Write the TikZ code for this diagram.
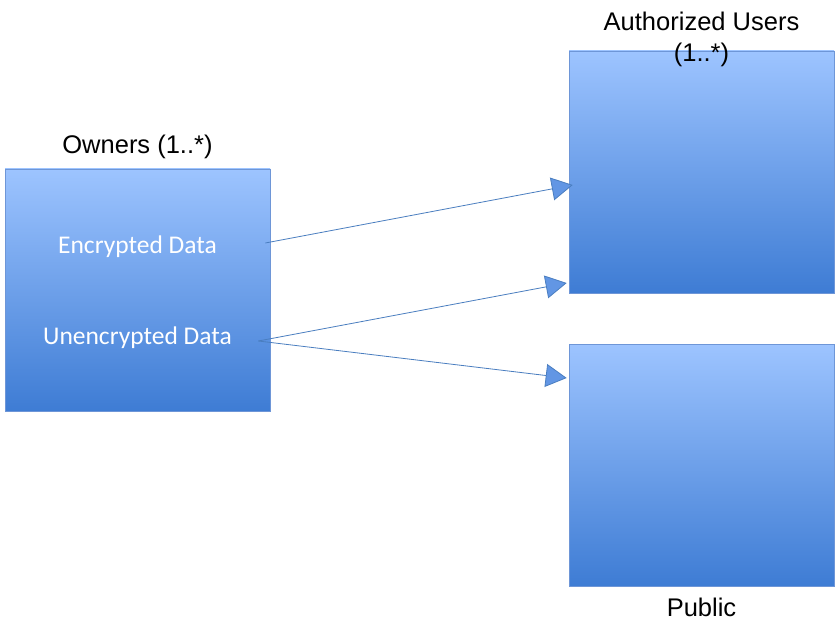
\documentclass[tikz,border=0pt]{standalone}
\usepackage{fontspec}
\setmainfont{Liberation Sans}
\newfontfamily\calibrifont{Carlito}
\usetikzlibrary{arrows.meta, positioning, calc}

\definecolor{boxtop}{RGB}{157,196,255}
\definecolor{boxbot}{RGB}{62,124,212}
\definecolor{boxedge}{RGB}{110,150,215}
\definecolor{linkblue}{RGB}{74,126,192}
\definecolor{headfill}{RGB}{98,150,228}

\begin{document}
\begin{tikzpicture}[
    x=1pt, y=-1pt,
    party/.style={
        rectangle, draw=boxedge, line width=0.6pt,
        top color=boxtop, bottom color=boxbot,
        minimum width=265pt, minimum height=242pt,
        inner sep=0pt
    },
    title/.style={font=\fontsize{25.5}{31}\selectfont, align=center},
    datalbl/.style={font=\calibrifont\fontsize{25.5}{28}\selectfont, text=white},
    flow/.style={-{Triangle[length=21pt, width=23pt, fill=headfill]},
        draw=linkblue, line width=0.8pt},
]

\useasboundingbox[fill=white] (0,0) rectangle (840,628);

% --- Owners (left) ---
\node[party] (OW) at (137.5, 290) {};
\node[title, above=6pt of OW.north] (OWt) {Owners (1..*)};
\node[datalbl] (ENC) at (137.5, 247) {Encrypted Data};
\node[datalbl] (UNE) at (137.5, 338) {Unencrypted Data};

% --- Authorized Users (top right) ---
\node[party] (AU) at (701.5, 172) {};
\node[title, anchor=north] (AUt) at (701.5, 8) {Authorized Users\\(1..*)};

% --- Public (bottom right) ---
\node[party] (PB) at (701.5, 465) {};
\node[title, below=8pt of PB.south] (PBt) {Public};

% --- Connections ---
\coordinate (ENCo) at ($(OW.east)+(-5, -47)$);
\coordinate (UNEo) at ($(OW.east)+(-12, 51)$);
\coordinate (AUa) at ($(AU.west)+(4, 13)$);
\coordinate (AUb) at ($(AU.west)+(-2, 111)$);
\coordinate (PBa) at ($(PB.west)+(-2, -87)$);

\draw[flow] (ENCo) -- (AUa);
\draw[flow] (UNEo) -- (AUb);
\draw[flow] (UNEo) -- (PBa);

\end{tikzpicture}
\end{document}
